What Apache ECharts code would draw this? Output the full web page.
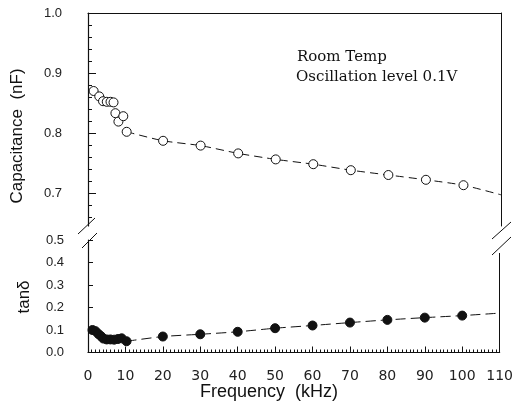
<!DOCTYPE html>
<html>
<head>
<meta charset="utf-8">
<script src="https://cdn.jsdelivr.net/npm/echarts@6/dist/echarts.min.js"></script>
<style>html,body{margin:0;padding:0;background:#fff}#c{width:516px;height:408px}</style>
</head>
<body>
<div id="c"></div>
<script>
// ---- data ----
const capFreq = [1.5, 3, 4, 5, 6, 6.8, 7.3, 8.1, 9.4, 10.3, 20, 30, 40, 50, 60, 70, 80, 90, 100];
const capValues = [0.870, 0.861, 0.853, 0.852, 0.852, 0.851, 0.833, 0.819, 0.828, 0.802, 0.787, 0.779, 0.766, 0.756, 0.748, 0.738, 0.730, 0.722, 0.713];
const capFitFreq = [10.3, 20, 30, 40, 50, 60, 70, 80, 90, 100, 110];
const capFitValues = [0.802, 0.787, 0.779, 0.766, 0.756, 0.748, 0.738, 0.730, 0.722, 0.713, 0.697];

const tanFreq = [1.2, 2, 2.8, 3.5, 4.1, 5, 6, 7, 8, 9, 10.3, 20, 30, 40, 50, 60, 70, 80, 90, 100];
const tanValues = [0.100, 0.095, 0.082, 0.072, 0.062, 0.058, 0.058, 0.057, 0.060, 0.063, 0.050, 0.071, 0.081, 0.092, 0.108, 0.120, 0.133, 0.145, 0.155, 0.164];
const tanFitFreq = [10.3, 20, 30, 40, 50, 60, 70, 80, 90, 100, 110];
const tanFitValues = [0.050, 0.071, 0.081, 0.092, 0.108, 0.120, 0.133, 0.145, 0.155, 0.164, 0.175];

const capMajorTicks = [0.7, 0.8, 0.9, 1.0];
const capMinorTicks = [0.66, 0.68, 0.72, 0.74, 0.76, 0.78, 0.82, 0.84, 0.86, 0.88, 0.92, 0.94, 0.96, 0.98];
const noteLines = ['Room Temp', 'Oscillation level 0.1V'];

const zip = (a, b) => a.map((x, i) => [x, b[i]]);
const chart = echarts.init(document.getElementById('c'), null, {renderer: 'canvas'});
const black = '#111';
const labelFont = 'Liberation Sans';

const option = {
  animation: false,
  backgroundColor: '#fff',
  grid: [
    {left: 88, right: 15, top: 13, height: 213},
    {left: 88, right: 15, top: 240, height: 112.5}
  ],
  xAxis: [
    {gridIndex: 0, type: 'value', min: 0, max: 110, interval: 10, position: 'top',
     axisLine: {show: true, lineStyle: {color: black, width: 1}}, axisTick: {show: false},
     axisLabel: {show: false}, splitLine: {show: false}},
    {gridIndex: 1, type: 'value', min: 0, max: 110, interval: 10, position: 'bottom',
     axisLine: {show: true, onZero: false, lineStyle: {color: black, width: 1.2}},
     axisTick: {show: true, inside: true, length: 6, lineStyle: {color: black}},
     minorTick: {show: true, splitNumber: 10, length: 3, lineStyle: {color: black}},
     axisLabel: {show: true, margin: 17, fontFamily: 'DejaVu Sans', fontSize: 14, color: '#222'},
     splitLine: {show: false}, minorSplitLine: {show: false}}
  ],
  yAxis: [
    {gridIndex: 0, type: 'value', min: 0.645, max: 1.0, position: 'left',
     axisLine: {show: true, lineStyle: {color: black, width: 1.2}},
     axisTick: {show: true, inside: true, length: 4, customValues: capMinorTicks, lineStyle: {color: black}},
     axisLabel: {show: false}, splitLine: {show: false}},
    {gridIndex: 0, type: 'value', min: 0.645, max: 1.0, position: 'left',
     axisLine: {show: false},
     axisTick: {show: true, inside: true, length: 8, customValues: capMajorTicks, lineStyle: {color: black}},
     axisLabel: {show: true, customValues: capMajorTicks, margin: 26, fontFamily: labelFont, fontSize: 13, color: '#222',
                 formatter: v => v.toFixed(1)},
     splitLine: {show: false}},
    {gridIndex: 0, type: 'value', min: 0.645, max: 1.0, position: 'right',
     axisLine: {show: true, lineStyle: {color: black, width: 1}}, axisTick: {show: false},
     axisLabel: {show: false}, splitLine: {show: false}},
    {gridIndex: 1, type: 'value', min: 0, max: 0.5, interval: 0.1, position: 'left',
     axisLine: {show: true, onZero: false, lineStyle: {color: black, width: 1.2}},
     axisTick: {show: true, inside: true, length: 5, lineStyle: {color: black}},
     axisLabel: {show: true, margin: 24, fontFamily: labelFont, fontSize: 13, color: '#222',
                 formatter: v => v.toFixed(1)},
     splitLine: {show: false}},
    {gridIndex: 1, type: 'value', min: 0, max: 0.5, interval: 0.1, position: 'right',
     axisLine: {show: true, onZero: false, lineStyle: {color: black, width: 1}}, axisTick: {show: false},
     axisLabel: {show: false}, splitLine: {show: false}}
  ],
  series: [
    {type: 'line', xAxisIndex: 0, yAxisIndex: 0, data: zip(capFitFreq, capFitValues), showSymbol: false,
     smooth: 0.2, lineStyle: {color: black, width: 1, type: [8, 5]}, z: 2},
    {type: 'scatter', xAxisIndex: 0, yAxisIndex: 0, data: zip(capFreq, capValues), symbol: 'circle', symbolSize: 9,
     itemStyle: {color: '#fff', borderColor: black, borderWidth: 1, opacity: 1}, z: 3},
    {type: 'line', xAxisIndex: 1, yAxisIndex: 3, data: zip(tanFitFreq, tanFitValues), showSymbol: false,
     smooth: 0.2, lineStyle: {color: black, width: 1, type: [10, 5]}, z: 2},
    {type: 'scatter', xAxisIndex: 1, yAxisIndex: 3, data: zip(tanFreq, tanValues), symbol: 'circle', symbolSize: 9,
     itemStyle: {color: black, borderColor: black, opacity: 1}, z: 3}
  ],
  graphic: [
    {type: 'text', x: 17, y: 136, rotation: Math.PI / 2,
     style: {text: 'Capacitance  (nF)', fontFamily: labelFont, fontSize: 17, fill: '#111', align: 'center', verticalAlign: 'middle'}},
    {type: 'text', x: 24, y: 297, rotation: Math.PI / 2,
     style: {text: 'tanδ', fontFamily: labelFont, fontSize: 17, fill: '#111', align: 'center', verticalAlign: 'middle'}},
    {type: 'text', x: 269, y: 392,
     style: {text: 'Frequency  (kHz)', fontFamily: labelFont, fontSize: 18, fill: '#111', align: 'center', verticalAlign: 'middle'}},
    {type: 'text', x: 297, y: 57,
     style: {text: noteLines[0], fontFamily: 'DejaVu Serif', fontSize: 15, fill: '#111', align: 'left', verticalAlign: 'middle'}},
    {type: 'text', x: 296, y: 77,
     style: {text: noteLines[1], fontFamily: 'DejaVu Serif', fontSize: 15, fill: '#111', align: 'left', verticalAlign: 'middle'}},
    {type: 'line', shape: {x1: 78, y1: 234, x2: 95, y2: 218}, style: {stroke: black, lineWidth: 1}},
    {type: 'line', shape: {x1: 82, y1: 248, x2: 97, y2: 233}, style: {stroke: black, lineWidth: 1}},
    {type: 'rect', shape: {x: 490, y: 227, width: 20, height: 26}, style: {fill: '#fff'}, z: 50},
    {type: 'line', shape: {x1: 492, y1: 239, x2: 511, y2: 222}, style: {stroke: black, lineWidth: 1}, z: 51},
    {type: 'line', shape: {x1: 492, y1: 255, x2: 511, y2: 237}, style: {stroke: black, lineWidth: 1}, z: 51}
  ]
};
chart.setOption(option);
</script>
</body>
</html>
